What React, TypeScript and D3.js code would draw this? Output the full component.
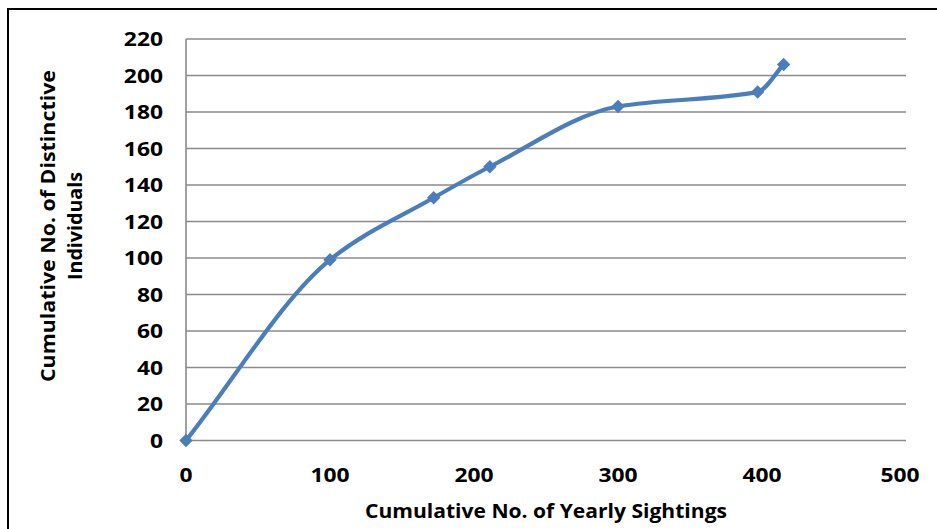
import React from "react";
import * as d3 from "d3";

const sightings = [0, 100, 172, 211, 300, 397, 415];
const individuals = [0, 99, 133, 150, 183, 191, 206];
const yTicks = [0, 20, 40, 60, 80, 100, 120, 140, 160, 180, 200, 220];
const xTicks = [0, 100, 200, 300, 400, 500];
const xTitle = "Cumulative No. of Yearly Sightings";
const yTitle1 = "Cumulative No. of Distinctive";
const yTitle2 = "Individuals";

const W = 937;
const H = 529;
const FONT = "'Open Sans', 'Liberation Sans', sans-serif";

// smooth path through screen points using harmonic-mean tangents (Fritsch–Butland style)
function smoothPath(p: [number, number][]): string {
  const n = p.length;
  const s: number[] = [];
  for (let i = 0; i < n - 1; i++) s.push((p[i + 1][1] - p[i][1]) / (p[i + 1][0] - p[i][0]));
  const m: number[] = [];
  for (let i = 0; i < n; i++) {
    if (i === 0) m.push(s[0]);
    else if (i === n - 1) m.push(s[n - 2]);
    else {
      const a = s[i - 1], b = s[i];
      m.push(a * b <= 0 ? 0 : (2 * a * b) / (a + b));
    }
  }
  const path = d3.path();
  path.moveTo(p[0][0], p[0][1]);
  for (let i = 0; i < n - 1; i++) {
    const h = (p[i + 1][0] - p[i][0]) / 3;
    path.bezierCurveTo(
      p[i][0] + h, p[i][1] + m[i] * h,
      p[i + 1][0] - h, p[i + 1][1] - m[i + 1] * h,
      p[i + 1][0], p[i + 1][1]
    );
  }
  return path.toString();
}

export default function App() {
  const x = d3.scaleLinear().domain([0, 500]).range([186, 906]);
  const y = d3.scaleLinear().domain([0, 220]).range([440.5, 39]);
  const pts = sightings.map((s, i) => [s, individuals[i]] as [number, number]);
  const screen = pts.map((d) => [x(d[0]), y(d[1])] as [number, number]);
  const diamond = d3.symbol().type(d3.symbolSquare).size(90)();
  const color = "#4A7EBB";
  return (
    <svg
      width={W}
      height={H}
      style={{ position: "absolute", left: 0, top: 0, background: "#fff" }}
    >
      <rect x={0} y={0} width={W} height={H} fill="#fff" />
      <rect x={8} y={9} width={W + 20} height={H + 20} fill="none" stroke="#000" strokeWidth={2} />
      {yTicks.map((t) => (
        <line key={t} x1={x(0)} x2={x(500)} y1={y(t)} y2={y(t)} stroke="#8a8a8a" strokeWidth={1.6} />
      ))}
      <line x1={x(0)} x2={x(0)} y1={y(0)} y2={y(220)} stroke="#8a8a8a" strokeWidth={1.6} />
      {yTicks.map((t) => (
        <g key={t} transform={`translate(163,${y(t) + 7})`}>
          <text
            transform="scale(1.17,1)"
            textAnchor="end"
            fontFamily={FONT}
            fontWeight="bold"
            fontSize={19.5}
            fill="#000"
          >
            {t}
          </text>
        </g>
      ))}
      {xTicks.map((t) => (
        <g key={t} transform={`translate(${t === 500 ? x(t) - 6 : x(t)},482)`}>
          <text
            transform="scale(1.17,1)"
            textAnchor="middle"
            fontFamily={FONT}
            fontWeight="bold"
            fontSize={19.5}
            fill="#000"
          >
            {t}
          </text>
        </g>
      ))}
      <path d={smoothPath(screen)} fill="none" stroke={color} strokeWidth={4.2} strokeLinejoin="round" />
      {screen.map((p, i) => (
        <path key={i} d={diamond} fill={color} transform={`translate(${p[0]},${p[1]}) rotate(45)`} />
      ))}
      <text
        x={546}
        y={518}
        textAnchor="middle"
        fontFamily={FONT}
        fontWeight="bold"
        fontSize={20}
        textLength={362}
        lengthAdjust="spacingAndGlyphs"
        fill="#000"
      >
        {xTitle}
      </text>
      <g transform="translate(0,226) rotate(-90)">
        <text
          x={0}
          y={55}
          textAnchor="middle"
          fontFamily={FONT}
          fontWeight="bold"
          fontSize={20}
          textLength={312}
          lengthAdjust="spacingAndGlyphs"
          fill="#000"
        >
          {yTitle1}
        </text>
        <text
          x={0}
          y={82}
          textAnchor="middle"
          fontFamily={FONT}
          fontWeight="bold"
          fontSize={20}
          textLength={108}
          lengthAdjust="spacingAndGlyphs"
          fill="#000"
        >
          {yTitle2}
        </text>
      </g>
    </svg>
  );
}
